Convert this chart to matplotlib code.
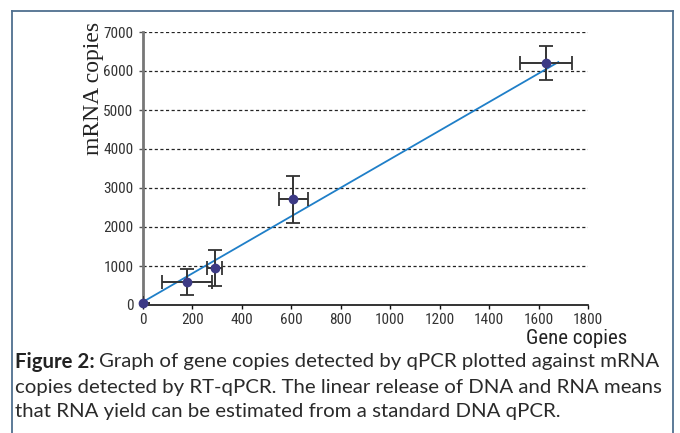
import numpy as np
import matplotlib
matplotlib.use('Agg')
import matplotlib.pyplot as plt
from matplotlib.lines import Line2D
from matplotlib import font_manager

# data
gene = [0, 178, 290, 608, 1630]
mrna = [50, 595, 950, 2715, 6215]
gene_err = [0, 102, 30, 58, 105]
mrna_err = [0, 330, 470, 600, 435]

fit_x = [0, 1680]
slope, intercept = 3.66, 80

xticks = list(range(0, 1801, 200))
yticks = list(range(0, 7001, 1000))

caption = ['Graph of gene copies detected by qPCR plotted against mRNA',
           'copies detected by RT-qPCR. The linear release of DNA and RNA means',
           'that RNA yield can be estimated from a standard DNA qPCR.']

have = {f.name for f in font_manager.fontManager.ttflist}
def pick(cands):
    return [c for c in cands if c in have][:1] + ['DejaVu Sans']
sans = pick(['Roboto Condensed', 'Liberation Sans Narrow', 'Roboto'])
capfont = pick(['Lato', 'Roboto', 'Noto Sans'])

fig = plt.figure(figsize=(6.8, 4.33), dpi=100)
ax = fig.add_axes([143/680, 1-305/433, (588-143)/680, (305-32)/433])

for y in yticks[1:]:
    ax.plot([0, 1800], [y, y], ls=(0, (2.5, 2)), color='#222222', lw=0.9, zorder=1)

ax.plot(fit_x, [slope*x + intercept for x in fit_x], color='#1f7fc8', lw=1.3, zorder=2)
ax.errorbar(gene, mrna, xerr=gene_err, yerr=mrna_err, fmt='none',
            ecolor='#333333', elinewidth=1.4, capsize=5, capthick=1.3, zorder=3)
ax.plot(gene, mrna, 'o', color='#3d3a85', ms=6, zorder=4, clip_on=False)

ax.set_xlim(0, 1800)
ax.set_ylim(0, 7000)
ax.set_xticks(xticks)
ax.set_yticks(yticks)
for s in ['top', 'right']:
    ax.spines[s].set_visible(False)
ax.spines['left'].set_color('#777777')
ax.spines['left'].set_linewidth(2)
ax.spines['bottom'].set_color('#111111')
ax.spines['bottom'].set_linewidth(1.2)
ax.tick_params(axis='y', length=3, width=1, color='#555555', pad=4)
ax.tick_params(axis='x', length=3, width=1, color='#111111', pad=3)
for lab in ax.get_xticklabels() + ax.get_yticklabels():
    lab.set_family(sans)
    lab.set_fontsize(11)
    lab.set_color('#333333')

fig.text(93/680, 1-88/433, 'mRNA copies', rotation=90, ha='center', va='center',
         fontsize=17, family=['Liberation Serif', 'DejaVu Serif'], color='#222222')
fig.text(577/680, 1-338/433, 'Gene copies', ha='center', va='center',
         fontsize=15, family=sans, color='#222222')

# caption, font size fitted so the middle line spans the frame
r = fig.canvas.get_renderer()
probe = fig.text(0, 0, caption[1], fontsize=14, family=capfont)
w = probe.get_window_extent(r).width
probe.remove()
cap_fs = 14 * 650 / w

ys = [362, 387, 411]
t0 = fig.text(15/680, 1-ys[0]/433, 'Figure 2:', fontsize=cap_fs, va='center', ha='left',
              color='#222222', family=capfont, weight='bold')
bb = t0.get_window_extent(r)
fig.text((bb.x1 + 0.3*cap_fs)/680, 1-ys[0]/433, caption[0],
         fontsize=cap_fs, va='center', ha='left', color='#2a2a2a', family=capfont)
for line, y in zip(caption[1:], ys[1:]):
    fig.text(15/680, 1-y/433, line, fontsize=cap_fs, va='center', ha='left',
             color='#2a2a2a', family=capfont)

# frame around the figure
bc = '#4f6f8f'
L, R, T = 12/680, 673/680, 1-11/433
fig.add_artist(Line2D([L, R], [T, T], color=bc, lw=1.3, transform=fig.transFigure))
fig.add_artist(Line2D([L, L], [0, T], color=bc, lw=1.3, transform=fig.transFigure))
fig.add_artist(Line2D([R, R], [0, T], color=bc, lw=1.3, transform=fig.transFigure))

fig.savefig('out.png', dpi=100)
